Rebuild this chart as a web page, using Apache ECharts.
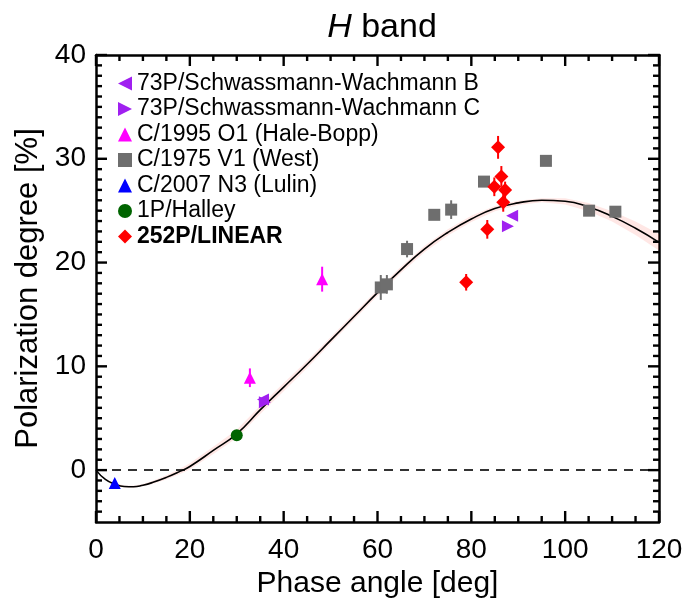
<!DOCTYPE html>
<html><head><meta charset="utf-8">
<script src="https://cdn.jsdelivr.net/npm/echarts@6/dist/echarts.min.js"></script>
<style>html,body{margin:0;padding:0;background:#fff}#c{width:686px;height:599px}</style>
</head><body><div id="c"></div>
<script>
// ---- data ----
const xTicks = [0, 20, 40, 60, 80, 100, 120];
const yTicks = [0, 10, 20, 30, 40];
const xMinorTicks = [5, 10, 15, 25, 30, 35, 45, 50, 55, 65, 70, 75, 85, 90, 95, 105, 110, 115];
const yMinorTicks = [-4, -3, -2, -1, 1, 2, 3, 4, 5, 6, 7, 8, 9, 11, 12, 13, 14, 15, 16, 17, 18, 19, 21, 22, 23, 24, 25, 26, 27, 28, 29, 31, 32, 33, 34, 35, 36, 37, 38, 39];

// fitted phase curve
const curveX = [0, 2, 4, 6, 8, 10, 12, 15, 18, 20, 25, 30, 35, 40, 45, 50, 55, 60, 65, 70, 75, 80, 85, 90, 95, 100, 105, 110, 115, 120];
const curveY = [0, -0.9, -1.35, -1.58, -1.6, -1.45, -1.2, -0.7, -0.1, 0.35, 1.9, 3.5, 5.8, 8.0, 10.2, 12.5, 14.8, 17.1, 19.3, 21.3, 22.9, 24.2, 25.2, 25.75, 26.0, 25.9, 25.35, 24.45, 23.3, 21.95];
const bandHalf = [0, 0.05, 0.1, 0.1, 0.1, 0.1, 0.15, 0.2, 0.25, 0.3, 0.35, 0.4, 0.4, 0.4, 0.35, 0.3, 0.3, 0.3, 0.3, 0.3, 0.3, 0.3, 0.25, 0.2, 0.2, 0.3, 0.4, 0.5, 0.65, 0.8];

// observations: [phase angle, polarization, error]
const p73B = [[35.6, 6.8, 0.2], [88.7, 24.5, 0.2]];
const p73C = [[36.0, 6.55, 0.2], [87.8, 23.5, 0.2]];
const haleBopp = [[32.8, 8.9, 0.9], [48.2, 18.4, 1.2]];
const west = [[60.7, 17.6, 1.2], [62.0, 17.9, 0.9], [66.3, 21.3, 0.8], [72.1, 24.6, 0.5], [75.7, 25.1, 0.9], [82.7, 27.8, 0.5], [95.9, 29.8, 0.4], [105.1, 25.0, 0.3], [110.7, 24.9, 0.4]];
const lulin = [[4.0, -1.25, 0.1]];
const halley = [[30.0, 3.35, 0.1]];
const linear = [[85.7, 31.1, 1.1], [86.4, 28.3, 1.0], [84.9, 27.3, 0.9], [87.2, 27.0, 0.8], [86.8, 25.8, 0.9], [83.4, 23.2, 0.9], [78.9, 18.1, 0.8]];

const names = ['73P/Schwassmann-Wachmann B', '73P/Schwassmann-Wachmann C', 'C/1995 O1 (Hale-Bopp)', 'C/1975 V1 (West)', 'C/2007 N3 (Lulin)', '1P/Halley', '252P/LINEAR'];

// ---- chart ----
const FONT = '"Liberation Sans", Arial, Helvetica, sans-serif';
const X_MIN = 0, X_MAX = 120, Y_MIN = -5, Y_MAX = 40;
const MAJOR_LEN = 11, MINOR_LEN = 6, TICK_W = 2.4;
const chart = echarts.init(document.getElementById('c'), null, {renderer: 'canvas'});

function errSeries(data, color) {
  return {
    type: 'custom', silent: true, z: 3,
    data: data,
    encode: {x: 0, y: 1},
    renderItem: function (params, api) {
      const x = api.value(0), y = api.value(1), e = api.value(2);
      const a = api.coord([x, y - e]), b = api.coord([x, y + e]);
      return {type: 'line', shape: {x1: a[0], y1: a[1], x2: b[0], y2: b[1]}, style: {stroke: color, lineWidth: 2}};
    }
  };
}
function scatter(name, data, symbol, color, size, rot) {
  return {
    name: name, type: 'scatter', z: 5,
    data: data.map(d => [d[0], d[1]]),
    symbol: symbol, symbolSize: size, symbolRotate: rot || 0,
    itemStyle: {color: color, opacity: 1}
  };
}
// tick marks drawn as thin rectangular scatter symbols sitting on the frame, pushed inward
function tickScatter(points, len, side) {
  const vertical = side === 'bottom' || side === 'top';
  const off = side === 'bottom' ? [0, -len / 2] : side === 'top' ? [0, len / 2] : side === 'left' ? [len / 2, 0] : [-len / 2, 0];
  return {
    type: 'scatter', silent: true, z: 9, clip: false,
    data: points,
    symbol: 'rect',
    symbolSize: vertical ? [TICK_W, len] : [len, TICK_W],
    symbolOffset: off,
    itemStyle: {color: '#000', opacity: 1},
    emphasis: {disabled: true}
  };
}
function axisDef(pos, isX, extra) {
  return Object.assign({
    type: 'value', position: pos,
    min: isX ? X_MIN : Y_MIN, max: isX ? X_MAX : Y_MAX, interval: isX ? 20 : 5,
    axisLine: {show: true, onZero: false, lineStyle: {color: '#000', width: 2.5}},
    axisTick: {show: false},
    minorTick: {show: false},
    splitLine: {show: false},
    axisLabel: {show: false}
  }, extra || {});
}

const option = {
  animation: false,
  backgroundColor: '#fff',
  title: {
    text: '{i|H} band', left: 377, textAlign: 'center', top: 6,
    textStyle: {fontFamily: FONT, fontSize: 34, fontWeight: 'normal', color: '#000',
      rich: {i: {fontFamily: FONT, fontSize: 34, fontStyle: 'italic', color: '#000'}}}
  },
  grid: {left: 96, right: 27, top: 55, bottom: 77, containLabel: false, outerBoundsMode: 'none'},
  legend: {
    data: [
      {name: names[0], icon: 'path://M0,5L10,0L10,10Z'},
      {name: names[1], icon: 'path://M10,5L0,0L0,10Z'},
      names[2], names[3], names[4], names[5], names[6]
    ],
    orient: 'vertical', left: 113, top: 67,
    itemWidth: 14, itemHeight: 14, itemGap: 2.5,
    textStyle: {fontFamily: FONT, fontSize: 23, color: '#000', rich: {b: {fontFamily: FONT, fontSize: 23, fontWeight: 'bold', color: '#000'}}},
    formatter: n => n === '252P/LINEAR' ? '{b|' + n + '}' : n
  },
  xAxis: [
    axisDef('bottom', true, {
      name: 'Phase angle [deg]', nameLocation: 'middle', nameGap: 43,
      nameTextStyle: {fontFamily: FONT, fontSize: 30, color: '#000'},
      axisLabel: {show: true, fontFamily: FONT, fontSize: 28, color: '#000', margin: 14, customValues: xTicks}
    }),
    axisDef('top', true)
  ],
  yAxis: [
    axisDef('left', false, {
      name: 'Polarization degree [%]', nameLocation: 'middle', nameGap: 52,
      nameTextStyle: {fontFamily: FONT, fontSize: 31, color: '#000'},
      axisLabel: {show: true, fontFamily: FONT, fontSize: 28, color: '#000', margin: 10, customValues: yTicks}
    }),
    axisDef('right', false)
  ],
  series: [
    {
      // uncertainty band
      type: 'custom', silent: true, z: 1, data: [[0, 0]], clip: true,
      renderItem: function (params, api) {
        const up = [], lo = [];
        for (let i = 0; i < curveX.length; i++) {
          up.push(api.coord([curveX[i], curveY[i] + bandHalf[i]]));
          lo.unshift(api.coord([curveX[i], curveY[i] - bandHalf[i]]));
        }
        return {type: 'polygon', shape: {points: up.concat(lo)}, style: {fill: 'rgba(255,120,110,0.18)', stroke: 'none'}};
      }
    },
    {
      type: 'line', silent: true, z: 2, data: [[X_MIN, 0], [X_MAX, 0]], showSymbol: false,
      lineStyle: {color: '#333', width: 2, type: [9, 7]}
    },
    {
      type: 'line', silent: true, z: 2, smooth: 0.5, showSymbol: false,
      data: curveX.map((x, i) => [x, curveY[i]]),
      lineStyle: {color: '#000', width: 1.6}
    },
    tickScatter(xTicks.map(v => [v, Y_MIN]), MAJOR_LEN, 'bottom'),
    tickScatter(xMinorTicks.map(v => [v, Y_MIN]), MINOR_LEN, 'bottom'),
    tickScatter(xTicks.map(v => [v, Y_MAX]), MAJOR_LEN, 'top'),
    tickScatter(xMinorTicks.map(v => [v, Y_MAX]), MINOR_LEN, 'top'),
    tickScatter(yTicks.map(v => [X_MIN, v]), MAJOR_LEN, 'left'),
    tickScatter(yMinorTicks.map(v => [X_MIN, v]), MINOR_LEN, 'left'),
    tickScatter(yTicks.map(v => [X_MAX, v]), MAJOR_LEN, 'right'),
    tickScatter(yMinorTicks.map(v => [X_MAX, v]), MINOR_LEN, 'right'),
    errSeries(haleBopp, '#ff00ff'),
    errSeries(west, '#707070'),
    errSeries(linear, '#ff0000'),
    scatter(names[0], p73B, 'triangle', '#a020f0', 12, 90),
    scatter(names[1], p73C, 'triangle', '#a020f0', 12, -90),
    scatter(names[2], haleBopp, 'triangle', '#ff00ff', 12, 0),
    scatter(names[3], west, 'rect', '#6e6e6e', 12, 0),
    scatter(names[4], lulin, 'triangle', '#0000ff', 12, 0),
    scatter(names[5], halley, 'circle', '#006400', 12, 0),
    scatter(names[6], linear, 'diamond', '#ff0000', 14, 0)
  ]
};
chart.setOption(option);
</script>
</body></html>
